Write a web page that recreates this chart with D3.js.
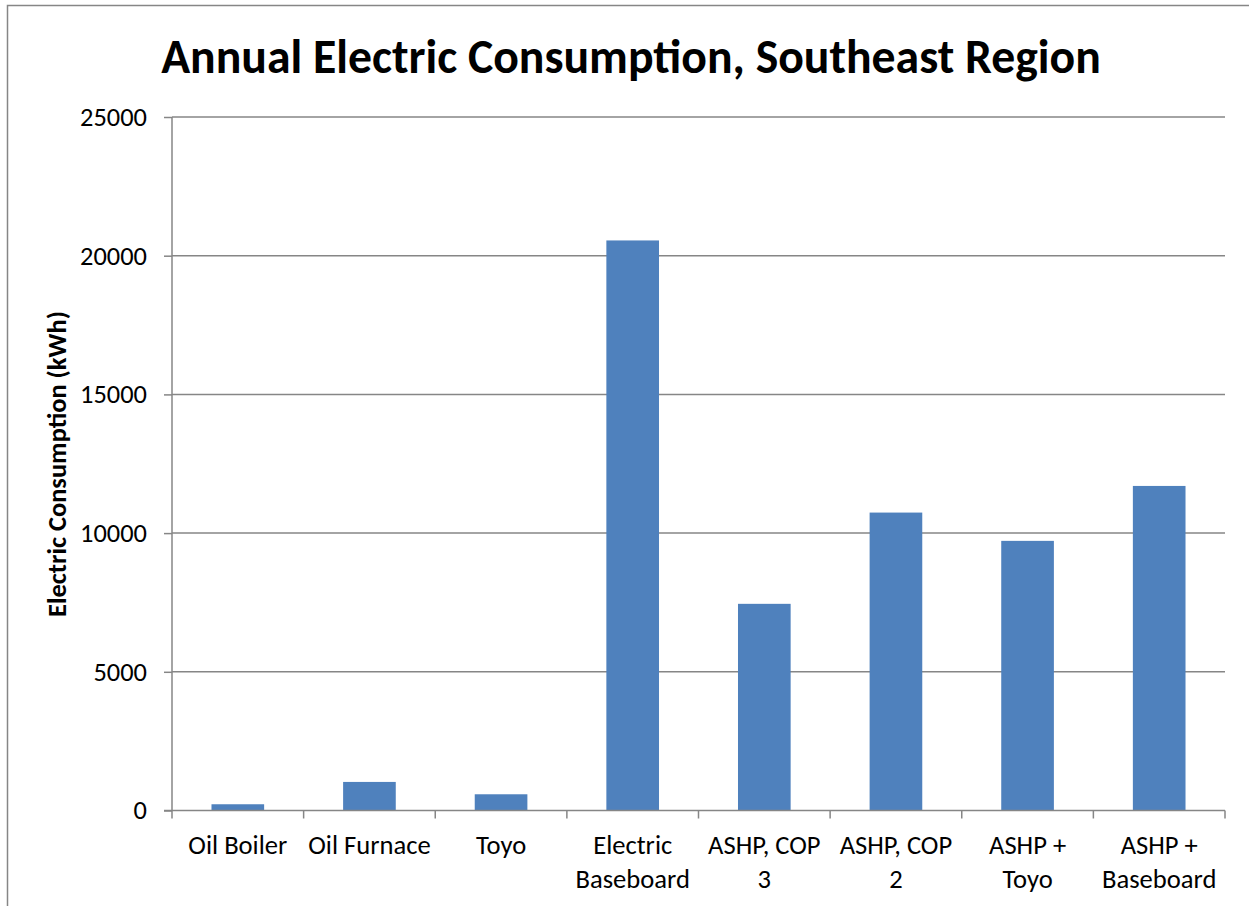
<!DOCTYPE html>
<html>
<head>
<meta charset="utf-8">
<script src="https://cdn.jsdelivr.net/npm/d3@7"></script>
<style>
  body { margin: 0; background: #fff; }
  svg { display: block; font-family: Carlito, Lato, "Open Sans", sans-serif; }
</style>
</head>
<body>
<svg id="chart"></svg>
<script>
// chart data
var categories = [
    ["Oil Boiler"],
    ["Oil Furnace"],
    ["Toyo"],
    ["Electric", "Baseboard"],
    ["ASHP, COP", "3"],
    ["ASHP, COP", "2"],
    ["ASHP +", "Toyo"],
    ["ASHP +", "Baseboard"]
];
var consumption = [225, 1030, 585, 20550, 7450, 10740, 9720, 11700];
var yTicks = [0, 5000, 10000, 15000, 20000, 25000];

var width = 1249, height = 906;
var margin = {left: 172, right: 24, top: 117, bottom: 96};
var gray = "#868686";

var svg = d3.select("#chart")
    .attr("width", width)
    .attr("height", height);

// font size that makes `str` about `target` px wide (fonts differ from the original)
function fitSize(str, weight, target) {
    var t = svg.append("text").attr("font-size", 100).attr("font-weight", weight).text(str);
    var w = t.node().getComputedTextLength();
    t.remove();
    return 100 * target / w;
}
var labelSize = fitSize("Oil Boiler", "normal", 99);
var tickSize = fitSize("25000", "normal", 67);

// outer chart frame (right / bottom run off the picture)
svg.append("rect")
    .attr("x", 7.5).attr("y", 5.5)
    .attr("width", width + 10).attr("height", height + 10)
    .attr("fill", "none")
    .attr("stroke", gray)
    .attr("stroke-width", 1.5);

var x = d3.scaleBand()
    .domain(d3.range(categories.length))
    .range([margin.left, width - margin.right])
    .paddingInner(0.6)
    .paddingOuter(0.3);

var y = d3.scaleLinear()
    .domain([0, 25000])
    .range([height - margin.bottom + 0.5, margin.top]);

// gridlines
svg.append("g")
    .selectAll("line")
    .data(yTicks.slice(1))
    .enter()
    .append("line")
    .attr("x1", margin.left)
    .attr("x2", width - margin.right)
    .attr("y1", function(d) { return y(d); })
    .attr("y2", function(d) { return y(d); })
    .attr("stroke", gray)
    .attr("stroke-width", 1.5);

// bars
svg.append("g")
    .selectAll("rect")
    .data(consumption)
    .enter()
    .append("rect")
    .attr("x", function(d, i) { return x(i); })
    .attr("y", function(d) { return y(d); })
    .attr("width", x.bandwidth())
    .attr("height", function(d) { return y(0) - y(d); })
    .attr("fill", "#4F81BD");

// y axis
var yAxis = svg.append("g")
    .attr("transform", "translate(" + margin.left + ",0)")
    .call(d3.axisLeft(y).tickValues(yTicks).tickSize(8).tickPadding(17).tickFormat(d3.format("d")))
    .attr("font-family", null)
    .attr("font-size", null);
yAxis.selectAll("line, path").attr("stroke", gray).attr("stroke-width", 1.5);
yAxis.select(".domain").attr("d", "M0," + y(0) + "V" + margin.top);
yAxis.selectAll("text")
    .attr("font-size", tickSize)
    .attr("fill", "#000");

// x axis: ticks sit on the category boundaries
var xEdges = d3.range(categories.length + 1).map(function(i) {
    return margin.left + i * (width - margin.right - margin.left) / categories.length;
});
var xg = svg.append("g");
xg.append("line")
    .attr("x1", margin.left - 8).attr("x2", width - margin.right)
    .attr("y1", y(0)).attr("y2", y(0))
    .attr("stroke", gray).attr("stroke-width", 1.5);
xg.selectAll("line.tick")
    .data(xEdges)
    .enter()
    .append("line")
    .attr("class", "tick")
    .attr("x1", function(d) { return d; })
    .attr("x2", function(d) { return d; })
    .attr("y1", y(0))
    .attr("y2", y(0) + 8)
    .attr("stroke", gray).attr("stroke-width", 1.5);

var labels = xg.selectAll("text")
    .data(categories)
    .enter()
    .append("text")
    .attr("text-anchor", "middle")
    .attr("font-size", labelSize)
    .attr("fill", "#000")
    .attr("transform", function(d, i) {
        return "translate(" + (x(i) + x.bandwidth() / 2) + "," + (y(0) + 43) + ")";
    });
labels.selectAll("tspan")
    .data(function(d) { return d; })
    .enter()
    .append("tspan")
    .attr("x", 0)
    .attr("y", function(d, j) { return j * 34; })
    .text(function(d) { return d; });

// axis title
svg.append("text")
    .attr("transform", "translate(66,464) rotate(-90)")
    .attr("text-anchor", "middle")
    .attr("font-weight", "bold")
    .attr("font-size", fitSize("Electric Consumption (kWh)", "bold", 306))
    .text("Electric Consumption (kWh)");

// chart title
svg.append("text")
    .attr("x", 631)
    .attr("y", 73)
    .attr("text-anchor", "middle")
    .attr("font-weight", "bold")
    .attr("font-size", fitSize("Annual Electric Consumption, Southeast Region", "bold", 940))
    .text("Annual Electric Consumption, Southeast Region");
</script>
</body>
</html>
